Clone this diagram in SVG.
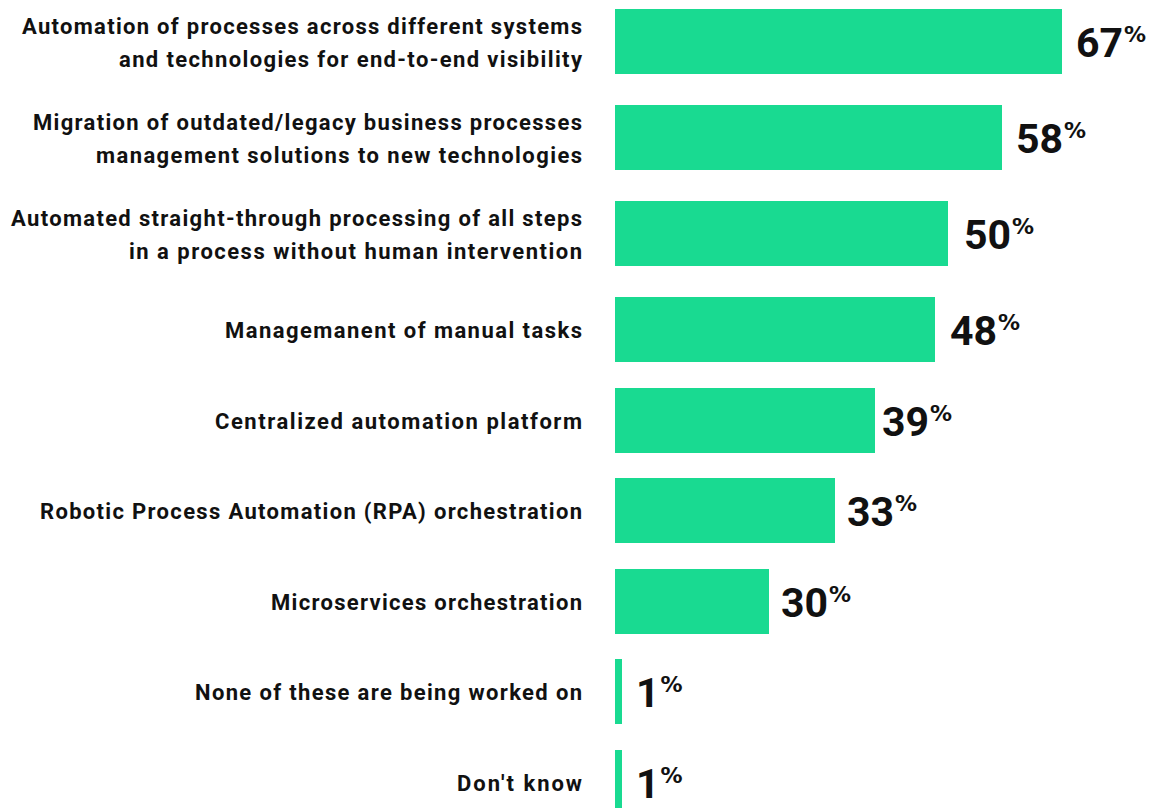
<svg xmlns="http://www.w3.org/2000/svg" width="1152" height="808" viewBox="0 0 1152 808">
<style>
.bar{fill:#19DA91}
.lbl{font-family:Roboto,"Liberation Sans",sans-serif;font-weight:700;font-size:22px;fill:#111;text-anchor:end}
.val{font-family:Roboto,"Liberation Sans",sans-serif;font-weight:700;font-size:41px;fill:#111}
.pct{font-family:"DejaVu Sans",sans-serif;font-size:22px}
</style>
<rect width="1152" height="808" fill="#fff"/>
<g id="row1">
<rect class="bar" x="615" y="9" width="447" height="65"/>
<text class="lbl" x="582" y="34" textLength="560" lengthAdjust="spacing">Automation of processes across different systems</text>
<text class="lbl" x="582" y="67" textLength="463" lengthAdjust="spacing">and technologies for end-to-end visibility</text>
<text class="val" x="1076" y="57">67<tspan class="pct" dx="1" dy="-15">%</tspan></text>
</g>
<g id="row2">
<rect class="bar" x="615" y="105" width="387" height="65"/>
<text class="lbl" x="582" y="130" textLength="549" lengthAdjust="spacing">Migration of outdated/legacy business processes</text>
<text class="lbl" x="582" y="163" textLength="486" lengthAdjust="spacing">management solutions to new technologies</text>
<text class="val" x="1016" y="153">58<tspan class="pct" dx="1" dy="-15">%</tspan></text>
</g>
<g id="row3">
<rect class="bar" x="615" y="201" width="333" height="65"/>
<text class="lbl" x="582" y="226" textLength="571" lengthAdjust="spacing">Automated straight-through processing of all steps</text>
<text class="lbl" x="582" y="259" textLength="453" lengthAdjust="spacing">in a process without human intervention</text>
<text class="val" x="964" y="249">50<tspan class="pct" dx="1" dy="-15">%</tspan></text>
</g>
<g id="row4">
<rect class="bar" x="615" y="297" width="320" height="65"/>
<text class="lbl" x="582" y="338" textLength="357" lengthAdjust="spacing">Managemanent of manual tasks</text>
<text class="val" x="950" y="345">48<tspan class="pct" dx="1" dy="-15">%</tspan></text>
</g>
<g id="row5">
<rect class="bar" x="615" y="388" width="260" height="65"/>
<text class="lbl" x="582" y="429" textLength="367" lengthAdjust="spacing">Centralized automation platform</text>
<text class="val" x="882" y="436">39<tspan class="pct" dx="1" dy="-15">%</tspan></text>
</g>
<g id="row6">
<rect class="bar" x="615" y="478" width="220" height="65"/>
<text class="lbl" x="582" y="519" textLength="542" lengthAdjust="spacing">Robotic Process Automation (RPA) orchestration</text>
<text class="val" x="847" y="526">33<tspan class="pct" dx="1" dy="-15">%</tspan></text>
</g>
<g id="row7">
<rect class="bar" x="615" y="569" width="154" height="65"/>
<text class="lbl" x="582" y="610" textLength="311" lengthAdjust="spacing">Microservices orchestration</text>
<text class="val" x="781" y="617">30<tspan class="pct" dx="1" dy="-15">%</tspan></text>
</g>
<g id="row8">
<rect class="bar" x="615" y="659" width="7" height="65"/>
<text class="lbl" x="582" y="700" textLength="387" lengthAdjust="spacing">None of these are being worked on</text>
<text class="val" x="636" y="707">1<tspan class="pct" dx="1" dy="-15">%</tspan></text>
</g>
<g id="row9">
<rect class="bar" x="615" y="750" width="7" height="65"/>
<text class="lbl" x="582" y="791" textLength="125" lengthAdjust="spacing">Don't know</text>
<text class="val" x="636" y="798">1<tspan class="pct" dx="1" dy="-15">%</tspan></text>
</g>
</svg>
